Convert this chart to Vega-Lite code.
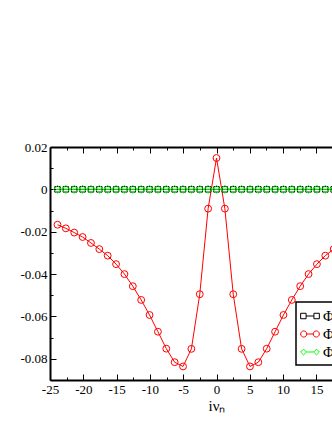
{
  "$schema": "https://vega.github.io/schema/vega-lite/v6.json",
  "autosize": {"type": "none"},
  "width": 333,
  "height": 233,
  "padding": {"left": 50, "top": 147, "right": 0, "bottom": 50},
  "background": "white",
  "config": {
    "view": {"stroke": null},
    "font": "Liberation Serif",
    "axis": {
      "grid": false,
      "domainColor": "black",
      "domainWidth": 2,
      "tickColor": "black",
      "tickWidth": 1,
      "labelColor": "black",
      "labelFont": "Liberation Serif",
      "labelFontSize": 13,
      "labelFlush": false,
      "labelOverlap": false,
      "titleFont": "Liberation Serif",
      "titleFontSize": 15,
      "titleFontWeight": "normal",
      "titleColor": "black",
      "offset": 0
    },
    "legend": {"strokeWidth": 1.5}
  },
  "data": {
    "values": [
      {"x": -23.8761, "s1": 0, "s2": -0.0167, "s3": 0},
      {"x": -22.6195, "s1": 0, "s2": -0.0184, "s3": 0},
      {"x": -21.3628, "s1": 0, "s2": -0.0204, "s3": 0},
      {"x": -20.1062, "s1": 0, "s2": -0.0225, "s3": 0},
      {"x": -18.8496, "s1": 0, "s2": -0.0253, "s3": 0},
      {"x": -17.5929, "s1": 0, "s2": -0.0282, "s3": 0},
      {"x": -16.3363, "s1": 0, "s2": -0.0313, "s3": 0},
      {"x": -15.0796, "s1": 0, "s2": -0.0353, "s3": 0},
      {"x": -13.823, "s1": 0, "s2": -0.04, "s3": 0},
      {"x": -12.5664, "s1": 0, "s2": -0.0457, "s3": 0},
      {"x": -11.3097, "s1": 0, "s2": -0.0522, "s3": 0},
      {"x": -10.0531, "s1": 0, "s2": -0.0593, "s3": 0},
      {"x": -8.7965, "s1": 0, "s2": -0.0672, "s3": 0},
      {"x": -7.5398, "s1": 0, "s2": -0.0752, "s3": 0},
      {"x": -6.2832, "s1": 0, "s2": -0.0816, "s3": 0},
      {"x": -5.0265, "s1": 0, "s2": -0.0836, "s3": 0},
      {"x": -3.7699, "s1": 0, "s2": -0.0753, "s3": 0},
      {"x": -2.5133, "s1": 0, "s2": -0.0495, "s3": 0},
      {"x": -1.2566, "s1": 0, "s2": -0.0091, "s3": 0},
      {"x": 0, "s1": 0, "s2": 0.0148, "s3": 0},
      {"x": 1.2566, "s1": 0, "s2": -0.0091, "s3": 0},
      {"x": 2.5133, "s1": 0, "s2": -0.0495, "s3": 0},
      {"x": 3.7699, "s1": 0, "s2": -0.0753, "s3": 0},
      {"x": 5.0265, "s1": 0, "s2": -0.0836, "s3": 0},
      {"x": 6.2832, "s1": 0, "s2": -0.0816, "s3": 0},
      {"x": 7.5398, "s1": 0, "s2": -0.0752, "s3": 0},
      {"x": 8.7965, "s1": 0, "s2": -0.0672, "s3": 0},
      {"x": 10.0531, "s1": 0, "s2": -0.0593, "s3": 0},
      {"x": 11.3097, "s1": 0, "s2": -0.0522, "s3": 0},
      {"x": 12.5664, "s1": 0, "s2": -0.0457, "s3": 0},
      {"x": 13.823, "s1": 0, "s2": -0.04, "s3": 0},
      {"x": 15.0796, "s1": 0, "s2": -0.0353, "s3": 0},
      {"x": 16.3363, "s1": 0, "s2": -0.0313, "s3": 0},
      {"x": 17.5929, "s1": 0, "s2": -0.0282, "s3": 0},
      {"x": 18.8496, "s1": 0, "s2": -0.0253, "s3": 0},
      {"x": 20.1062, "s1": 0, "s2": -0.0225, "s3": 0},
      {"x": 21.3628, "s1": 0, "s2": -0.0204, "s3": 0},
      {"x": 22.6195, "s1": 0, "s2": -0.0184, "s3": 0},
      {"x": 23.8761, "s1": 0, "s2": -0.0167, "s3": 0}
    ]
  },
  "transform": [{"fold": ["s1", "s2", "s3"], "as": ["series", "y"]}],
  "layer": [
    {
      "mark": {"type": "line", "strokeWidth": 1},
      "encoding": {
        "x": {
          "field": "x",
          "type": "quantitative",
          "scale": {"domain": [-25, 25], "nice": false, "zero": false},
          "axis": {
            "orient": "bottom",
            "title": "iνₙ",
            "values": [-25, -20, -15, -10, -5, 0, 5, 10, 15, 20, 25],
            "labelExpr": "'' + datum.value",
            "tickSize": -6,
            "labelPadding": 9,
            "titlePadding": 2
          }
        },
        "y": {
          "field": "y",
          "type": "quantitative",
          "scale": {"domain": [-0.09, 0.02], "nice": false, "zero": false},
          "axis": {
            "orient": "left",
            "title": null,
            "values": [-0.08, -0.06, -0.04, -0.02, 0, 0.02],
            "labelExpr": "'' + datum.value",
            "tickSize": -6,
            "labelPadding": 9
          }
        },
        "color": {
          "field": "series",
          "type": "nominal",
          "scale": {"domain": ["s1", "s2", "s3"], "range": ["#000000", "#ff0000", "#00ff00"]},
          "legend": null
        }
      }
    },
    {
      "mark": {"type": "point", "filled": false, "strokeWidth": 1, "opacity": 1},
      "encoding": {
        "x": {
          "field": "x",
          "type": "quantitative",
          "axis": {
            "orient": "bottom",
            "title": null,
            "labels": false,
            "domain": false,
            "values": [-22.5, -17.5, -12.5, -7.5, -2.5, 2.5, 7.5, 12.5, 17.5, 22.5],
            "tickSize": -3
          }
        },
        "y": {
          "field": "y",
          "type": "quantitative",
          "axis": {
            "orient": "left",
            "title": null,
            "labels": false,
            "domain": false,
            "values": [-0.09, -0.07, -0.05, -0.03, -0.01, 0.01],
            "tickSize": -3
          }
        },
        "color": {
          "field": "series",
          "type": "nominal",
          "scale": {"domain": ["s1", "s2", "s3"], "range": ["#000000", "#ff0000", "#00ff00"]},
          "legend": null
        },
        "shape": {
          "field": "series",
          "type": "nominal",
          "scale": {"domain": ["s1", "s2", "s3"], "range": ["square", "circle", "diamond"]},
          "legend": null
        },
        "size": {
          "field": "series",
          "type": "nominal",
          "scale": {"domain": ["s1", "s2", "s3"], "range": [30, 64, 45]},
          "legend": null
        }
      }
    },
    {
      "transform": [{"filter": "false"}],
      "mark": {"type": "point", "filled": false},
      "encoding": {
        "x": {
          "field": "x",
          "type": "quantitative",
          "axis": {
            "orient": "top",
            "title": null,
            "labels": false,
            "values": [-25, -20, -15, -10, -5, 0, 5, 10, 15, 20, 25],
            "tickSize": -6
          }
        },
        "y": {"field": "y", "type": "quantitative", "axis": null}
      }
    },
    {
      "transform": [{"filter": "false"}],
      "mark": {"type": "point", "filled": false, "strokeWidth": 1, "size": 289, "opacity": 1},
      "encoding": {
        "x": {
          "field": "x",
          "type": "quantitative",
          "axis": {
            "orient": "top",
            "title": null,
            "labels": false,
            "domain": false,
            "values": [-22.5, -17.5, -12.5, -7.5, -2.5, 2.5, 7.5, 12.5, 17.5, 22.5],
            "tickSize": -3
          }
        },
        "y": {"field": "y", "type": "quantitative", "axis": null},
        "color": {
          "field": "series",
          "type": "nominal",
          "scale": {"domain": ["s1", "s2", "s3"], "range": ["#000000", "#ff0000", "#00ff00"]},
          "legend": {
            "orient": "none",
            "legendX": 246,
            "legendY": 155,
            "title": null,
            "padding": 5,
            "rowPadding": 1,
            "strokeColor": "black",
            "fillColor": "white",
            "symbolSize": 289,
            "symbolStrokeWidth": 1,
            "symbolOpacity": 1,
            "labelFont": "Liberation Serif",
            "labelFontSize": 15,
            "labelColor": "black",
            "labelOffset": 4,
            "labelExpr": "datum.value == 's1' ? 'Φ₁₁' : datum.value == 's2' ? 'Φ₁₂' : 'Φ₂₂'"
          }
        },
        "shape": {
          "field": "series",
          "type": "nominal",
          "scale": {
            "domain": ["s1", "s2", "s3"],
            "range": [
              "M-1.1,-0.32H-0.46V0.32H-1.1ZM-0.46,0H0.46M0.46,-0.32H1.1V0.32H0.46Z",
              "M-1.1,0A0.36,0.36,0,1,0,-0.38,0A0.36,0.36,0,1,0,-1.1,0ZM-0.38,0H0.38M0.38,0A0.36,0.36,0,1,0,1.1,0A0.36,0.36,0,1,0,0.38,0Z",
              "M-1.1,0L-0.76,-0.34L-0.42,0L-0.76,0.34ZM-0.42,0H0.42M0.42,0L0.76,-0.34L1.1,0L0.76,0.34Z"
            ]
          },
          "legend": {
            "orient": "none",
            "legendX": 246,
            "legendY": 155,
            "title": null,
            "padding": 5,
            "rowPadding": 1,
            "strokeColor": "black",
            "fillColor": "white",
            "symbolSize": 289,
            "symbolStrokeWidth": 1,
            "symbolOpacity": 1,
            "labelFont": "Liberation Serif",
            "labelFontSize": 15,
            "labelColor": "black",
            "labelOffset": 4,
            "labelExpr": "datum.value == 's1' ? 'Φ₁₁' : datum.value == 's2' ? 'Φ₁₂' : 'Φ₂₂'"
          }
        }
      }
    }
  ],
  "resolve": {
    "scale": {"shape": "independent", "size": "independent", "color": "independent"},
    "axis": {"x": "independent", "y": "independent"}
  }
}
